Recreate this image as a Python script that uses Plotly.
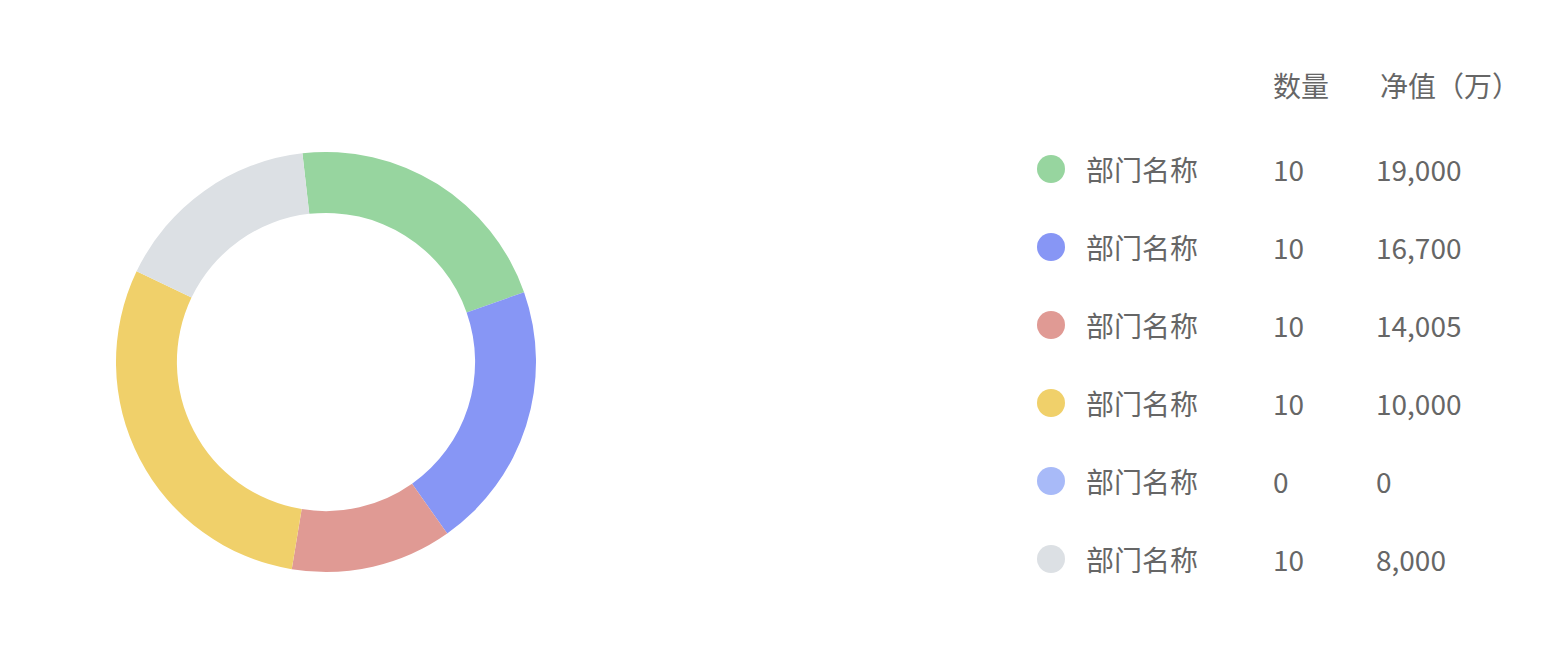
import plotly.graph_objects as go

# data
names = ["部门名称", "部门名称", "部门名称", "部门名称", "部门名称", "部门名称"]
counts = [10, 10, 10, 10, 0, 10]
net_values = ["19,000", "16,700", "14,005", "10,000", "0", "8,000"]
ring_share = [21.4, 20.6, 12.4, 29.5, 0, 16.1]  # shares
colors = ["#97D59F", "#8796F5", "#E09A94", "#F0D06A", "#A8BAF8", "#DCE0E4"]
headers = ["数量", "净值（万）"]

W, H = 1558, 658
OFF = 8  # page body margin
FONT = "Noto Sans CJK SC"
TEXT_COLOR = "#666666"
FONT_SIZE = 28

# legend table layout (pixel columns, row pitch)
DOT_X = 1051 - OFF
NAME_X = 1076
COUNT_X = 1263
VALUE_X = 1366
HEADER_VALUE_X = 1370
ROW0_PX = 169 - OFF
ROW_STEP = 78
HEADER_ROW = -1.08

fig = go.Figure()

fig.add_trace(
    go.Pie(
        values=ring_share,
        labels=[f"{n} {i}" for i, n in enumerate(names)],
        hole=0.71,
        sort=False,
        direction="clockwise",
        rotation=-6.45,
        marker=dict(colors=colors, line=dict(width=0)),
        textinfo="none",
        hoverinfo="skip",
        showlegend=False,
        domain=dict(
            x=[(116 - OFF) / W, (536 - OFF) / W],
            y=[(H - 572 + OFF) / H, (H - 152 + OFF) / H],
        ),
    )
)

rows = list(range(len(names)))

fig.add_trace(
    go.Scatter(
        x=[DOT_X] * len(rows),
        y=rows,
        mode="markers",
        marker=dict(size=28, color=colors, line=dict(width=0)),
        hoverinfo="skip",
        showlegend=False,
    )
)

for i in rows:
    for x, txt in [(NAME_X, names[i]), (COUNT_X, str(counts[i])), (VALUE_X, net_values[i])]:
        fig.add_annotation(
            x=x,
            y=i,
            xref="x",
            yref="y",
            text=txt,
            showarrow=False,
            xanchor="left",
            yanchor="middle",
            font=dict(family=FONT, size=FONT_SIZE, color=TEXT_COLOR),
        )

for x, txt in zip([COUNT_X, HEADER_VALUE_X], headers):
    fig.add_annotation(
        x=x,
        y=HEADER_ROW,
        xref="x",
        yref="y",
        text=txt,
        showarrow=False,
        xanchor="left",
        yanchor="middle",
        font=dict(family=FONT, size=FONT_SIZE, color=TEXT_COLOR),
    )

fig.update_layout(
    width=W,
    height=H,
    margin=dict(l=0, r=0, t=0, b=0),
    paper_bgcolor="white",
    plot_bgcolor="rgba(0,0,0,0)",
    font=dict(family=FONT, color=TEXT_COLOR),
    xaxis=dict(range=[0, W], visible=False, fixedrange=True),
    yaxis=dict(
        range=[(H - ROW0_PX) / ROW_STEP, -ROW0_PX / ROW_STEP],
        visible=False,
        fixedrange=True,
    ),
)

fig.write_html("out.html")
